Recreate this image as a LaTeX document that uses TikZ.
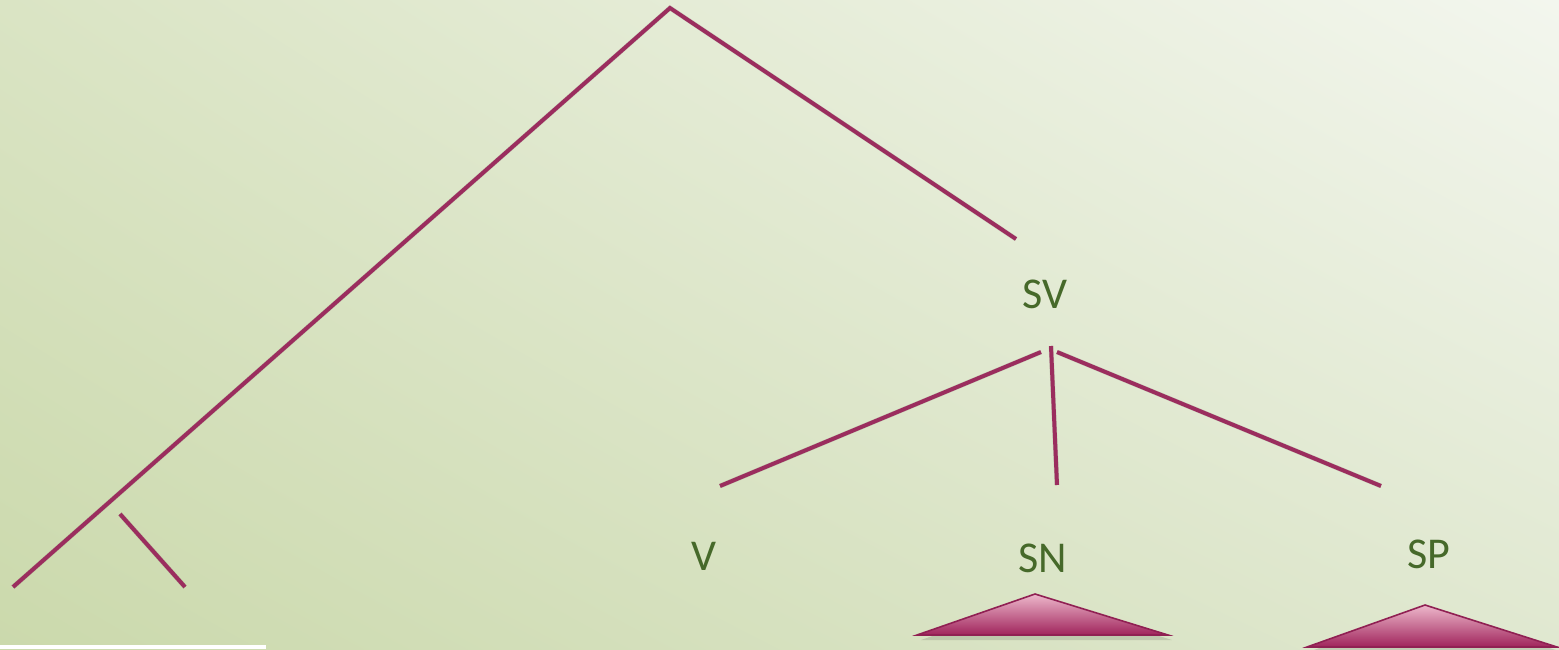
\documentclass[tikz,border=0pt]{standalone}
\usepackage{fontspec}
\setmainfont{Carlito}
\usetikzlibrary{shadings}
\definecolor{branch}{HTML}{9B2D5E}
\definecolor{lbl}{HTML}{46692A}
\definecolor{tritop}{HTML}{EDB8CB}
\definecolor{tribot}{HTML}{A0245C}
\definecolor{bgll}{HTML}{CBD9AC}
\definecolor{bgul}{HTML}{DAE4C4}
\definecolor{bglr}{HTML}{E0E8D0}
\definecolor{bgur}{HTML}{F3F6EE}
\begin{document}
\begin{tikzpicture}[x=0.5pt,y=-0.5pt,
  br/.style={draw=branch,line width=2pt},
  brshadow/.style={draw=black,opacity=0.12,line width=2.4pt},
  lab/.style={text=lbl,font=\fontsize{22}{26}\selectfont,inner sep=0pt,anchor=center},
  tri/.style={draw=tribot!90!black,line width=0.8pt,top color=tritop,bottom color=tribot}]
\useasboundingbox (0,0) rectangle (1559,649);
\shade[lower left=bgll,upper left=bgul,lower right=bglr,upper right=bgur] (0,649) rectangle (1559,0);
\fill[white] (0,645) rectangle (266,649);
% coordinates
\coordinate (root) at (670,8);
\coordinate (lA) at (13,587);
\coordinate (rA) at (1016,239);
\coordinate (b1) at (120,514);
\coordinate (b2) at (185,587);
\coordinate (v1) at (1041,352);
\coordinate (v2) at (720,486);
\coordinate (n1) at (1051,346);
\coordinate (n2) at (1057,485);
\coordinate (p1) at (1057,352);
\coordinate (p2) at (1381,486);
% shadows
\begin{scope}[shift={(3,5)}]
\draw[brshadow] (lA) -- (root) -- (rA);
\draw[brshadow] (b1) -- (b2);
\draw[brshadow] (v1) -- (v2);
\draw[brshadow] (n1) -- (n2);
\draw[brshadow] (p1) -- (p2);
\end{scope}
% branches
\draw[br,line join=miter] (lA) -- (root) -- (rA);
\draw[br] (b1) -- (b2);
\draw[br] (v1) -- (v2);
\draw[br] (n1) -- (n2);
\draw[br] (p1) -- (p2);
% labels
\node[lab] (sv) at (1045,294) {SV};
\node[lab] (v) at (704,556) {V};
\node[lab] (sn) at (1043,558) {SN};
\node[lab] (sp) at (1429,554) {SP};
% triangles
\fill[black,opacity=0.12] (921,640) -- (1039,599) -- (1172,640) -- cycle;
\fill[black,opacity=0.12] (1311,651) -- (1429,610) -- (1559,651) -- cycle;
\path[tri] (917,635) -- (1035,594) -- (1168,635) -- cycle;
\path[tri] (1307,647) -- (1425,605) -- (1557,647) -- cycle;
\end{tikzpicture}
\end{document}
